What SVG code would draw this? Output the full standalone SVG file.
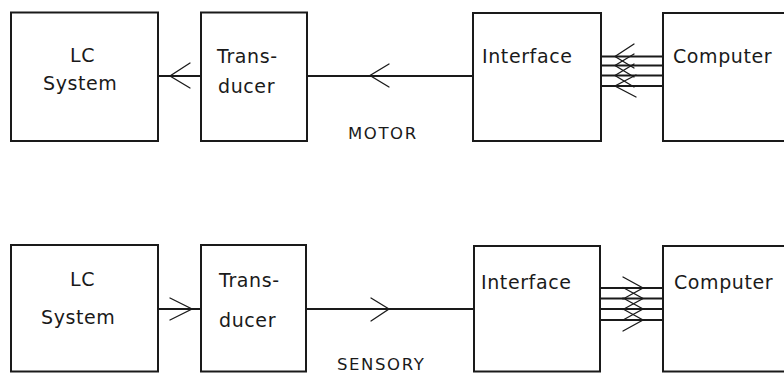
<svg xmlns="http://www.w3.org/2000/svg" width="784" height="373" viewBox="0 0 784 373">
  <style>
    .box { fill: none; stroke: #1a1a1a; stroke-width: 2; }
    .wire { fill: none; stroke: #1a1a1a; stroke-width: 1.8; }
    .head { fill: none; stroke: #1a1a1a; stroke-width: 1.3; stroke-linecap: round; stroke-linejoin: miter; }
    .lbl { font-family: "DejaVu Sans", "Liberation Sans", sans-serif; font-size: 19px; fill: #1a1a1a; letter-spacing: 0.6px; }
    .cap { font-family: "DejaVu Sans", "Liberation Sans", sans-serif; font-size: 16.5px; fill: #1a1a1a; letter-spacing: 1.6px; }
  </style>
  <rect width="784" height="373" fill="#ffffff"/>

  <!-- Motor chain -->
  <g id="lc-motor">
    <rect class="box" x="11" y="12.5" width="147" height="128.5"/>
    <text class="lbl" x="70" y="62">LC</text>
    <text class="lbl" x="43" y="90">System</text>
  </g>
  <g id="transducer-motor">
    <rect class="box" x="201" y="12.5" width="106" height="128.5"/>
    <text class="lbl" x="217" y="63">Trans-</text>
    <text class="lbl" x="218" y="93">ducer</text>
  </g>
  <g id="interface-motor">
    <rect class="box" x="473" y="13" width="128" height="128"/>
    <text class="lbl" x="482" y="63">Interface</text>
  </g>
  <g id="computer-motor">
    <rect class="box" x="663" y="13" width="140" height="128"/>
    <text class="lbl" x="673" y="63">Computer</text>
  </g>
  <text id="label-motor" class="cap" x="348" y="139">MOTOR</text>

  <!-- Sensory chain -->
  <g id="lc-sensory">
    <rect class="box" x="11" y="245" width="147" height="126.5"/>
    <text class="lbl" x="70" y="286">LC</text>
    <text class="lbl" x="41" y="324">System</text>
  </g>
  <g id="transducer-sensory">
    <rect class="box" x="201" y="245" width="105" height="126.5"/>
    <text class="lbl" x="219" y="287">Trans-</text>
    <text class="lbl" x="219" y="327">ducer</text>
  </g>
  <g id="interface-sensory">
    <rect class="box" x="474" y="246" width="126" height="125.5"/>
    <text class="lbl" x="481" y="289">Interface</text>
  </g>
  <g id="computer-sensory">
    <rect class="box" x="663" y="246" width="140" height="125.5"/>
    <text class="lbl" x="674" y="289">Computer</text>
  </g>
  <text id="label-sensory" class="cap" x="337" y="370">SENSORY</text>

  <g id="connectors">
    <!-- motor: signals flow right to left -->
    <line class="wire" x1="158" y1="76" x2="201" y2="76"/>
    <polyline class="head" points="190,63 170,76 190,88"/>
    <line class="wire" x1="307" y1="76" x2="473" y2="76"/>
    <polyline class="head" points="389,64 370,75.5 389,87"/>
    <line class="wire" x1="601" y1="56.5" x2="663" y2="56.5"/>
    <line class="wire" x1="601" y1="65.5" x2="663" y2="65.5"/>
    <line class="wire" x1="601" y1="75.5" x2="663" y2="75.5"/>
    <line class="wire" x1="601" y1="86" x2="663" y2="86"/>
    <polyline class="head" points="634,44 615,56.5 634,68"/>
    <polyline class="head" points="634,54 615,65.5 634,77"/>
    <polyline class="head" points="634,64 615,75.5 634,87"/>
    <polyline class="head" points="636,75 615,86 636,97"/>

    <!-- sensory: signals flow left to right -->
    <line class="wire" x1="158" y1="309" x2="201" y2="309"/>
    <polyline class="head" points="170,298 192,309 170,320"/>
    <line class="wire" x1="306" y1="309" x2="474" y2="309"/>
    <polyline class="head" points="371,298 389,309 371,321"/>
    <line class="wire" x1="600" y1="288" x2="663" y2="288"/>
    <line class="wire" x1="600" y1="298.5" x2="663" y2="298.5"/>
    <line class="wire" x1="600" y1="309" x2="663" y2="309"/>
    <line class="wire" x1="600" y1="320" x2="663" y2="320"/>
    <polyline class="head" points="623,277 643,288 623,299"/>
    <polyline class="head" points="623,287.5 643,298.5 623,309.5"/>
    <polyline class="head" points="623,298 643,309 623,320"/>
    <polyline class="head" points="623,309 643,320 623,331"/>
  </g>
</svg>
